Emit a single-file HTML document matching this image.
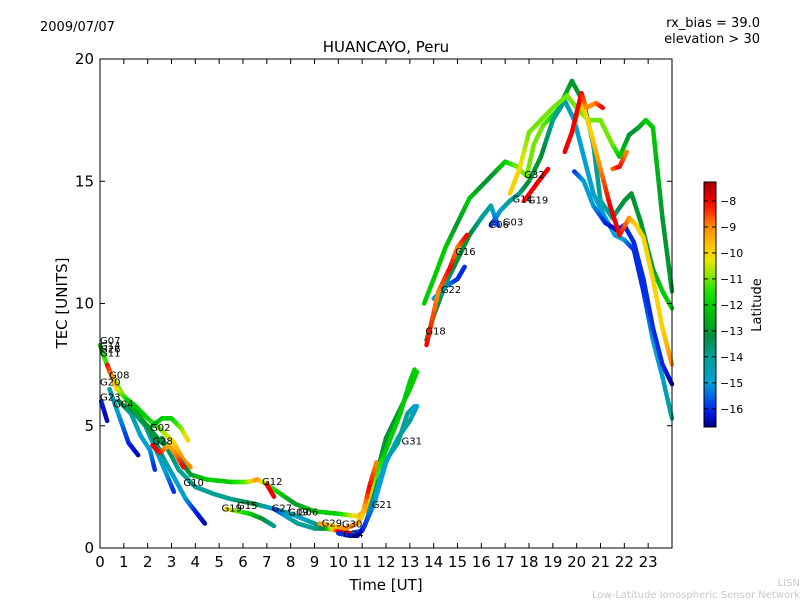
<!DOCTYPE html>
<html><head><meta charset="utf-8"><style>
body{margin:0;background:#fff;}
svg text{font-family:"DejaVu Sans","Liberation Sans",sans-serif;}
</style></head><body>
<svg id="chart" width="800" height="600" xmlns="http://www.w3.org/2000/svg">
<defs>
<linearGradient id="jet" x1="0" y1="1" x2="0" y2="0"></linearGradient>
</defs>
<text x="40" y="31" font-size="13">2009/07/07</text>
<text x="760" y="27" font-size="13" text-anchor="end">rx_bias = 39.0</text>
<text x="760" y="43" font-size="13" text-anchor="end">elevation &gt; 30</text>
<text x="386" y="52" font-size="15" text-anchor="middle">HUANCAYO, Peru</text>
<g id="marks"></g>
<g id="labels" font-size="10"></g>
<rect x="100" y="59" width="572" height="489" fill="none" stroke="#000" stroke-width="1"/>
<g id="axes"></g>
<text x="386" y="590" font-size="15" text-anchor="middle">Time [UT]</text>
<text transform="translate(67,303) rotate(-90)" font-size="15" text-anchor="middle">TEC [UNITS]</text>
<rect x="704" y="182" width="12" height="245" fill="url(#jet)" stroke="#000" stroke-width="1"/>
<g id="cbticks" font-size="11"></g>
<text transform="translate(761,305) rotate(-90)" font-size="13" text-anchor="middle">Latitude</text>
<text x="800" y="586" font-size="10" fill="#c8c8c8" text-anchor="end">LISN</text>
<text x="800" y="598" font-size="10" fill="#c8c8c8" text-anchor="end">Low-Latitude Ionospheric Sensor Network</text>
</svg>
<script>
const xTicks=[0,1,2,3,4,5,6,7,8,9,10,11,12,13,14,15,16,17,18,19,20,21,22,23];
const yTicks=[0,5,10,15,20];
const cbTicks=[-8,-9,-10,-11,-12,-13,-14,-15,-16];
const latMin=-16.7, latMax=-7.27;
// tracks: [hour, tec, latitude]
const trackA=[[0,8.3,-12],[0.4,7.2,-11],[1,6.2,-11],[1.5,5.8,-12],[2,5.3,-12],[2.6,4.8,-11],[3.1,4.3,-10],[3.5,3.6,-9],[3.8,3.3,-9]];
const trackG02=[[2.2,5.0,-13],[2.6,5.3,-12],[3.0,5.3,-12],[3.4,4.9,-11],[3.7,4.4,-10]];
const trackG28=[[2.2,4.2,-8],[2.5,3.9,-8],[2.9,4.2,-9.5],[3.2,3.8,-9],[3.5,3.3,-8]];
const trackG08=[[0.3,7.5,-8],[0.7,6.5,-10],[1.2,6.0,-12],[1.8,5.2,-13],[2.5,4.4,-13],[3.2,3.8,-14],[3.8,3.0,-13],[4.5,2.8,-12],[5.5,2.7,-12],[6.2,2.7,-11],[6.6,2.8,-9],[7.0,2.6,-11],[7.6,2.2,-12],[8.2,1.8,-13],[9,1.5,-12],[10,1.4,-12],[10.8,1.3,-10],[11.1,1.5,-9],[11.5,2.8,-11],[12,4.0,-12],[12.6,5.5,-12],[13,6.8,-12],[13.2,7.3,-12]];
const trackG12red=[[7.0,2.6,-8],[7.3,2.1,-8]];
const trackG15=[[5.3,1.6,-10],[5.8,1.5,-11],[6.3,1.4,-12],[6.8,1.2,-13],[7.3,0.9,-14]];
const trackB1=[[0.05,6.0,-16],[0.3,5.2,-16.5]];
const trackB2=[[0.4,6.5,-14],[0.8,5.4,-15],[1.2,4.3,-16],[1.6,3.8,-16.5]];
const trackB3=[[0.8,6.0,-13],[1.3,5.5,-14],[1.7,4.6,-15],[2.1,4.0,-15],[2.3,3.2,-16]];
const trackB4=[[1.2,5.8,-13],[1.9,5.0,-14],[2.4,3.9,-15],[2.8,3.0,-15],[3.1,2.3,-16]];
const trackB5=[[2.0,5.0,-13],[2.7,3.6,-14],[3.1,2.9,-15],[3.6,2.0,-15],[4.0,1.5,-16],[4.4,1.0,-16.5]];
const trackG10=[[2.6,4.5,-13],[3.3,3.2,-14],[4,2.5,-14],[4.8,2.2,-14],[5.5,2.0,-14],[6.5,1.8,-13],[7.3,1.6,-15],[8,1.4,-14],[8.5,1.2,-15],[9,1.0,-14],[9.5,0.8,-13],[10,0.7,-12],[10.5,0.6,-15],[11,0.7,-16],[11.5,1.8,-15],[12,3.5,-15],[12.5,4.5,-15],[13,5.2,-14],[13.3,5.8,-15]];
const trackG27=[[7.3,1.6,-16],[7.8,1.3,-15],[8.3,1.0,-14],[9,0.8,-14],[9.5,0.8,-13],[10,0.7,-8],[10.5,0.6,-8]];
const trackG29=[[9.2,1.0,-9],[9.8,0.9,-10],[10.3,0.8,-9],[10.8,1.0,-9],[11.0,1.3,-10],[11.3,2.5,-8],[11.6,3.5,-9]];
const trackG24=[[10.0,0.6,-16],[10.5,0.5,-16],[10.8,0.5,-16.5],[11.1,0.9,-16],[11.5,2.0,-15],[12,3.6,-15],[12.5,4.3,-14],[12.9,5.5,-14],[13.2,5.8,-15]];
const trackG31=[[11.2,1.5,-14],[11.6,3.0,-13],[12,4.5,-13],[12.5,5.5,-13],[13,6.5,-12],[13.3,7.2,-12]];
const trackU1=[[13.6,10.0,-12],[14,11.0,-12],[14.5,12.3,-12],[15,13.3,-13],[15.5,14.3,-12],[16,14.8,-13],[16.5,15.3,-13],[17,15.8,-12],[17.5,15.6,-11],[17.9,15.2,-11],[18.2,16.5,-11],[18.6,17.3,-11],[19.2,17.9,-12],[19.8,19.1,-13],[20.3,18.2,-13],[20.7,16.5,-14],[21,14.2,-14],[21.5,13.5,-14],[22,14.2,-13],[22.3,14.5,-13],[22.7,13.3,-13],[23.2,11.4,-13],[23.6,10.5,-12],[24,9.8,-12]];
const trackG18=[[13.7,8.5,-13],[14,9.5,-13],[14.5,10.8,-14],[15,11.8,-13],[15.5,12.8,-13],[16,13.5,-14],[16.4,14.0,-14],[16.7,13.2,-16]];
const trackG16=[[13.7,8.3,-8],[14.2,10.5,-9],[14.7,11.5,-8],[15.0,12.3,-9],[15.4,12.8,-8]];
const trackG22=[[14.0,10.2,-15],[14.5,10.7,-15],[15,11.0,-16],[15.3,11.5,-16]];
const trackG03=[[16.4,13.2,-16],[16.8,13.8,-15],[17.2,14.2,-14],[17.6,14.5,-14],[18,15.0,-13],[18.5,16.0,-13],[19,17.5,-14],[19.5,18.3,-14],[19.9,17.5,-15],[20.3,16,-15],[20.7,14.5,-15],[21.2,13.5,-15],[21.6,12.8,-15],[22,12.6,-15],[22.4,12.2,-16],[22.8,10.5,-16],[23.2,8.5,-15],[23.6,7.0,-15],[24,5.3,-14]];
const trackG32=[[17.2,14.5,-10],[17.6,15.5,-10],[18,17,-11],[18.5,17.5,-11],[19,18.0,-11],[19.6,18.5,-11],[20,18,-11],[20.5,17.5,-11],[21,17.5,-11],[21.5,16.5,-11],[21.8,16.0,-12],[22.2,16.9,-13],[22.6,17.2,-13],[22.9,17.5,-12],[23.2,17.2,-12],[23.6,13.5,-13],[24,10.5,-13]];
const trackG19=[[17.8,14.2,-8],[18.4,15.0,-8],[18.8,15.5,-8]];
const trackPeakRed=[[19.5,16.2,-8],[19.8,17,-8],[20.2,18.6,-8],[20.4,18.0,-9],[20.8,18.2,-9],[21.1,18.0,-8]];
const trackOrange=[[19.8,17.0,-9],[20.2,18.3,-10],[20.6,17.0,-10],[21,15.5,-9],[21.4,14.0,-8],[21.8,12.8,-8],[22.2,13.5,-9],[22.5,13.2,-10],[22.8,12.7,-10],[23.2,11.0,-10],[23.6,9.0,-10],[24,7.5,-9]];
const trackBlueDesc=[[19.9,15.4,-16],[20.3,15.0,-15],[20.7,14.0,-15],[21.2,13.3,-16],[21.7,13.0,-16.5],[22,13.2,-16],[22.4,12.5,-16],[22.8,11,-16],[23.2,9.0,-16],[23.6,7.5,-16],[24,6.7,-16.5]];
const trackOrange2=[[21.5,15.5,-9],[21.8,15.6,-8],[22.1,16.2,-9]];
const tracks=[trackB1,trackB2,trackB3,trackB4,trackB5,trackG10,trackG27,trackG24,trackG31,trackG15,trackA,trackG08,trackG12red,trackG02,trackG28,trackG29,trackG22,trackG18,trackU1,trackG03,trackBlueDesc,trackG32,trackOrange,trackOrange2,trackG16,trackG19,trackPeakRed];
const labelNames=["G07","G14","G26","G11","G08","G20","G23","G04","G02","G28","G10","G12","G19","G15","G27","G09","G06","G29","G30","G24","G21","G31","G18","G22","G16","G06","G03","G14","G19","G32"];
const labelHours=[0,0,0,0,0.38,0,0,0.55,2.1,2.2,3.5,6.8,5.1,5.75,7.2,7.9,8.3,9.3,10.15,10.2,11.4,12.65,13.65,14.3,14.9,16.3,16.9,17.3,17.95,17.8];
const labelTecs=[8.5,8.3,8.15,8.0,7.1,6.8,6.2,5.9,4.95,4.4,2.7,2.75,1.65,1.75,1.65,1.5,1.5,1.05,1.0,0.6,1.8,4.4,8.9,10.6,12.15,13.25,13.35,14.3,14.25,15.3];
const X0=100,X1=672,Y0=548,Y1=59;
const xs=h=>X0+(X1-X0)*h/24;
const ys=v=>Y0-(Y0-Y1)*v/20;
// custom colormap stops [latitude, r,g,b]
const cmap=[[-16.7,0,0,130],[-16.2,0,20,230],[-15.6,0,90,230],[-15,0,160,210],[-14,0,160,150],[-13.2,0,140,60],[-12.5,0,180,20],[-12,0,205,0],[-11.4,40,230,0],[-10.8,150,230,0],[-10.3,230,230,0],[-9.8,255,200,0],[-9,255,140,0],[-8.5,255,60,0],[-8,240,0,0],[-7.27,160,0,0]];
function jet(l){l=Math.max(latMin,Math.min(latMax,l));
 for(let i=0;i<cmap.length-1;i++){const a=cmap[i],b=cmap[i+1];
  if(l<=b[0]){const f=(l-a[0])/(b[0]-a[0]);
   return `rgb(${Math.round(a[1]+(b[1]-a[1])*f)},${Math.round(a[2]+(b[2]-a[2])*f)},${Math.round(a[3]+(b[3]-a[3])*f)})`;}}
 return 'rgb(160,0,0)';}
const NS="http://www.w3.org/2000/svg";
const grad=document.getElementById('jet');
cmap.forEach(c=>{const s=document.createElementNS(NS,'stop');
 s.setAttribute('offset',(c[0]-latMin)/(latMax-latMin));s.setAttribute('stop-color',`rgb(${c[1]},${c[2]},${c[3]})`);grad.appendChild(s);});
const marks=document.getElementById('marks');
tracks.forEach((tr,ti)=>{
 const g=document.createElementNS(NS,'g');
 
 
 for(let i=0;i<tr.length-1;i++){
  const a=tr[i],b=tr[i+1];
  const steps=6;
  for(let s=0;s<steps;s++){
   const f0=s/steps,f1=(s+1)/steps;
   const l=document.createElementNS(NS,'line');
   l.setAttribute('x1',xs(a[0]+(b[0]-a[0])*f0));l.setAttribute('y1',ys(a[1]+(b[1]-a[1])*f0));
   l.setAttribute('x2',xs(a[0]+(b[0]-a[0])*f1));l.setAttribute('y2',ys(a[1]+(b[1]-a[1])*f1));
   l.setAttribute('stroke',jet(a[2]+(b[2]-a[2])*(f0+f1)/2));
   l.setAttribute('stroke-width','4.5');l.setAttribute('stroke-linecap','round');
   g.appendChild(l);
  }
 }
 marks.appendChild(g);
});
const lg=document.getElementById('labels');
labelNames.forEach((n,i)=>{
 const t=document.createElementNS(NS,'text');
 t.setAttribute('x',xs(labelHours[i]));t.setAttribute('y',ys(labelTecs[i])+4);
 t.textContent=n;
 
 
 lg.appendChild(t);
});
const ax=document.getElementById('axes');
xTicks.forEach(h=>{
 const x=xs(h);
 ax.insertAdjacentHTML('beforeend',`<line x1="${x}" y1="${Y0}" x2="${x}" y2="${Y0-5}" stroke="#000"/><line x1="${x}" y1="${Y1}" x2="${x}" y2="${Y1+5}" stroke="#000"/>`);
 const t=document.createElementNS(NS,'text');
 t.setAttribute('x',x);t.setAttribute('y',567);t.setAttribute('font-size','15');t.setAttribute('text-anchor','middle');
 t.textContent=h;
 
 
 ax.appendChild(t);
});
yTicks.forEach(v=>{
 const y=ys(v);
 ax.insertAdjacentHTML('beforeend',`<line x1="${X0}" y1="${y}" x2="${X0+5}" y2="${y}" stroke="#000"/><line x1="${X1}" y1="${y}" x2="${X1-5}" y2="${y}" stroke="#000"/>`);
 const t=document.createElementNS(NS,'text');
 t.setAttribute('x',94);t.setAttribute('y',y+5);t.setAttribute('font-size','15');t.setAttribute('text-anchor','end');
 t.textContent=v;
 
 
 ax.appendChild(t);
});
const cb=document.getElementById('cbticks');
cbTicks.forEach(v=>{
 const y=427-245*(v-latMin)/(latMax-latMin);
 cb.insertAdjacentHTML('beforeend',`<line x1="704" y1="${y}" x2="708" y2="${y}" stroke="#000"/><line x1="716" y1="${y}" x2="712" y2="${y}" stroke="#000"/>`);
 const t=document.createElementNS(NS,'text');
 t.setAttribute('x',720);t.setAttribute('y',y+4);
 t.textContent='\u2212'+Math.abs(v);
 
 
 cb.appendChild(t);
});
</script>
</body></html>
